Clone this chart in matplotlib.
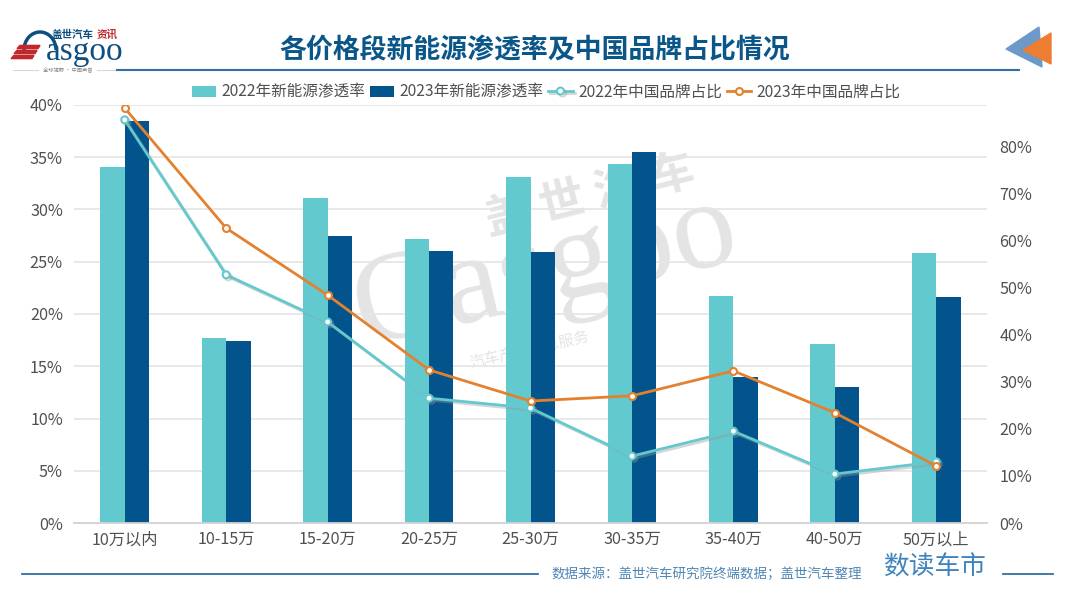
import matplotlib
matplotlib.use("Agg")
import matplotlib.pyplot as plt
import matplotlib.patheffects as pe
from matplotlib.patches import Polygon, Arc
import numpy as np

plt.rcParams['font.family'] = ['Noto Sans CJK SC', 'DejaVu Sans']

categories = ['10万以内', '10-15万', '15-20万', '20-25万', '25-30万', '30-35万', '35-40万', '40-50万', '50万以上']
nev_2022 = [34.1, 17.7, 31.1, 27.2, 33.1, 34.4, 21.7, 17.1, 25.8]
nev_2023 = [38.5, 17.4, 27.5, 26.0, 25.9, 35.5, 14.0, 13.0, 21.6]
brand_2022 = [85.6, 52.7, 42.7, 26.5, 24.4, 14.2, 19.5, 10.4, 13.0]
brand_2023 = [88.1, 62.6, 48.4, 32.5, 25.9, 27.0, 32.3, 23.4, 12.1]
left_ticks = [0, 5, 10, 15, 20, 25, 30, 35, 40]
right_ticks = [0, 10, 20, 30, 40, 50, 60, 70, 80]

TEAL = '#62c9cf'
NAVY = '#03548c'
ORANGE = '#e3812f'
TEXT = '#505050'
BLUE = '#2f6fa5'
W, H = 1080, 600

fig = plt.figure(figsize=(10.8, 6.0), dpi=100, facecolor='white')

bg = fig.add_axes([0, 0, 1, 1], zorder=0)
bg.set_xlim(0, W); bg.set_ylim(H, 0); bg.axis('off')

# watermark
bg.text(590, 197, '盖 世 汽 车', fontsize=33, fontweight='bold', color='#e4e4e4', rotation=14,
        ha='center', va='center')
bg.text(546, 272, 'Gasgoo', fontsize=92, family='Liberation Serif', color='#e4e4e4', rotation=13,
        ha='center', va='center')
bg.text(530, 350, '汽车产业信息服务', fontsize=11, color='#e4e4e4', rotation=13,
        ha='center', va='center')

ax = fig.add_axes([74 / W, 1 - 523 / H, (987 - 74) / W, (523 - 105) / H], zorder=2)
ax.patch.set_alpha(0)
x = np.arange(len(categories))
bw = 0.24
ax.bar(x - bw / 2, nev_2022, bw, color=TEAL, label='2022年新能源渗透率', zorder=2)
ax.bar(x + bw / 2, nev_2023, bw, color=NAVY, label='2023年新能源渗透率', zorder=2)
ax.set_xlim(-0.5, len(categories) - 0.5)
ax.set_ylim(0, 40)
ax.set_yticks(left_ticks)
ax.set_yticklabels([f'{v}%' for v in left_ticks])
ax.set_xticks(x)
ax.set_xticklabels(categories)
ax.tick_params(axis='both', length=0, labelsize=11.7, labelcolor=TEXT)
ax.tick_params(axis='x', pad=6)
ax.tick_params(axis='y', pad=8)
ax.grid(axis='y', color='#e6e6e6', lw=1.3, zorder=0)
ax.set_axisbelow(True)
for s in ['top', 'left', 'right']:
    ax.spines[s].set_visible(False)
ax.spines['bottom'].set_color('#d2d2d2')
ax.spines['bottom'].set_linewidth(1.3)

ax2 = ax.twinx()
ax2.patch.set_alpha(0)
ax2.set_ylim(0, 88.75)
ax2.set_yticks(right_ticks)
ax2.set_yticklabels([f'{v}%' for v in right_ticks])
ax2.tick_params(axis='y', length=0, labelsize=11.7, labelcolor=TEXT, pad=9)
for s in ax2.spines.values():
    s.set_visible(False)
shadow = [pe.SimpleLineShadow(offset=(1.5, -1.5), shadow_color='#999999', alpha=0.4), pe.Normal()]
ax2.plot(x, brand_2022, color=TEAL, lw=2.0, marker='o', ms=5.0, mfc='white', mew=1.5,
         label='2022年中国品牌占比', path_effects=shadow, zorder=3)
ax2.plot(x, brand_2023, color=ORANGE, lw=2.0, marker='o', ms=5.0, mfc='white', mew=1.5,
         label='2023年中国品牌占比', zorder=4)

# legend
h1, l1 = ax.get_legend_handles_labels()
h2, l2 = ax2.get_legend_handles_labels()
fig.legend(h1 + h2, l1 + l2, ncol=4, loc='center', bbox_to_anchor=(546 / W, 1 - 92 / H),
           frameon=False, fontsize=11.25, labelcolor=TEXT, handlelength=1.55, handletextpad=0.35,
           columnspacing=0.3, handleheight=0.7, borderpad=0)

# header
bg.text(535, 50, '各价格段新能源渗透率及中国品牌占比情况', fontsize=19.4, fontweight='bold',
        color='#0b5688', ha='center', va='center')
bg.plot([117, 1019], [70, 70], color=BLUE, lw=1.5)
bg.plot([13, 38], [70, 70], color='#d8d8d8', lw=0.8)
bg.plot([97, 115], [70, 70], color='#d8d8d8', lw=0.8)
bg.add_patch(Polygon([[1006, 49], [1039, 27], [1042, 67]], closed=True, color='#6c99c8'))
bg.add_patch(Polygon([[1023, 50], [1051, 33], [1051, 64]], closed=True, color='#ed7d31'))

# logo
bg.add_patch(Arc((40, 50), 32, 36, theta1=180, theta2=360, color='#0e4f80', lw=2.5))
bg.text(85, 52, 'asgoo', fontsize=24, family='Liberation Serif', color='#0e4f80', ha='center', va='center')
for i, yy in enumerate([47, 52, 57]):
    bg.add_patch(Polygon([[20 - i * 3, yy - 1.6], [40 - i * 3, yy - 1.6], [38 - i * 3, yy + 1.6], [17 - i * 3, yy + 1.6]],
                         closed=True, color='#c0282c', zorder=3))
bg.text(73, 35, '盖世汽车', fontsize=7.6, fontweight='bold', color='#0e4f80', ha='center', va='center')
bg.text(107, 35, '资讯', fontsize=7.6, fontweight='bold', color='#c0282c', ha='center', va='center')
bg.text(68, 70, '全球视野 · 中国声音', fontsize=3.8, color='#888888', ha='center', va='center')

# footer
bg.plot([22, 538], [574, 574], color=BLUE, lw=1.3)
bg.plot([1003, 1053], [574, 574], color=BLUE, lw=1.3)
bg.text(707, 574, '数据来源：盖世汽车研究院终端数据；盖世汽车整理', fontsize=9.7, style='italic',
        color='#4f86b5', ha='center', va='center')
bg.text(935, 568, '数读车市', fontsize=18.5, fontweight='medium', color='#3f83bd', ha='center', va='center')

fig.savefig('out.png', dpi=100)
